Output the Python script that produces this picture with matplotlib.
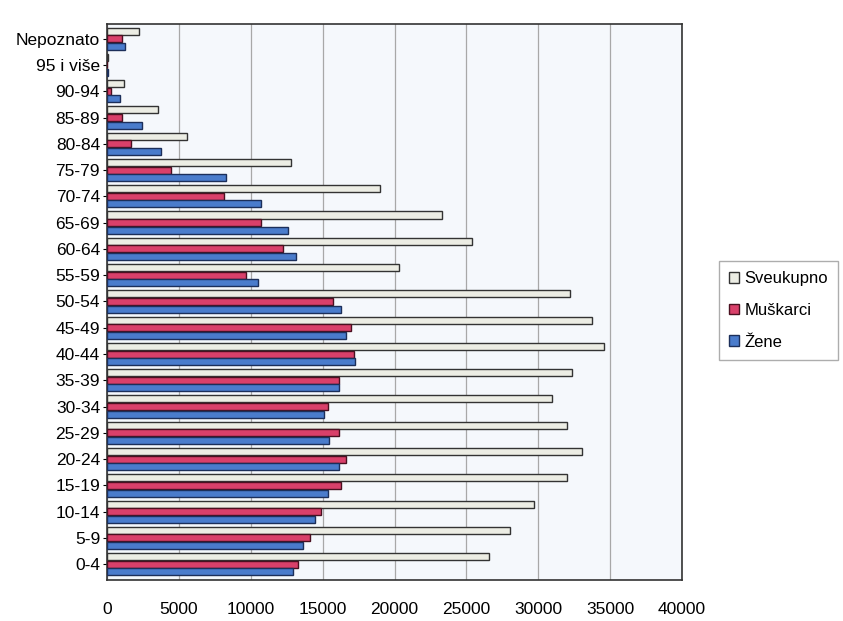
import matplotlib
matplotlib.use("Agg")
import matplotlib.pyplot as plt
import numpy as np

categories = ["0-4", "5-9", "10-14", "15-19", "20-24", "25-29", "30-34", "35-39",
              "40-44", "45-49", "50-54", "55-59", "60-64", "65-69", "70-74",
              "75-79", "80-84", "85-89", "90-94", "95 i više", "Nepoznato"]
sveukupno = [26600, 28000, 29700, 32000, 33050, 32000, 30950, 32350,
             34600, 33750, 32200, 20300, 25400, 23300, 19000,
             12800, 5550, 3550, 1200, 100, 2200]
muskarci = [13250, 14100, 14900, 16250, 16600, 16150, 15400, 16150,
            17200, 17000, 15700, 9700, 12250, 10700, 8150,
            4450, 1700, 1050, 280, 30, 1050]
zene = [12950, 13600, 14450, 15400, 16150, 15450, 15100, 16150,
        17250, 16650, 16300, 10500, 13150, 12600, 10700,
        8300, 3750, 2450, 900, 70, 1250]
series_names = ["Sveukupno", "Muškarci", "Žene"]
xticks = [0, 5000, 10000, 15000, 20000, 25000, 30000, 35000, 40000]

plt.rcParams['font.family'] = ['Liberation Sans', 'DejaVu Sans']

fig = plt.figure(figsize=(8.43, 6.21), dpi=100)
ax = fig.add_axes([0.127, 0.066, 0.682, 0.895])
ax.set_facecolor('#f5f8fc')

y = np.arange(len(categories))
h = 0.29
colors = ['#ecede4', '#d9406a', '#4a7ccc']
edges = ['#333333', '#4a1020', '#1c2f5a']
for i, (vals, name) in enumerate(zip([sveukupno, muskarci, zene], series_names)):
    ax.barh(y + (1 - i) * h, vals, height=h * 0.92, color=colors[i],
            edgecolor=edges[i], linewidth=1.0, label=name, zorder=3)

ax.set_xlim(0, 40000)
ax.set_ylim(-0.6, len(categories) - 0.45)
ax.set_xticks(xticks)
ax.set_xticklabels([str(t) for t in xticks], fontsize=12.5)
ax.set_yticks(y)
ax.set_yticklabels(categories, fontsize=12.5)
ax.tick_params(axis='x', length=0, pad=16)
ax.tick_params(axis='y', length=3, pad=2)
ax.grid(axis='x', color='#a8a8a8', linewidth=0.9, zorder=0)
for s in ax.spines.values():
    s.set_color('#333333')
    s.set_linewidth(1.2)

leg = ax.legend(loc='center left', bbox_to_anchor=(1.065, 0.485), fontsize=12,
                frameon=True, fancybox=False, edgecolor='#999999',
                handlelength=0.6, handleheight=0.6, handletextpad=0.3,
                labelspacing=1.0, borderpad=0.6, borderaxespad=0)

fig.savefig("out.png", dpi=100)
